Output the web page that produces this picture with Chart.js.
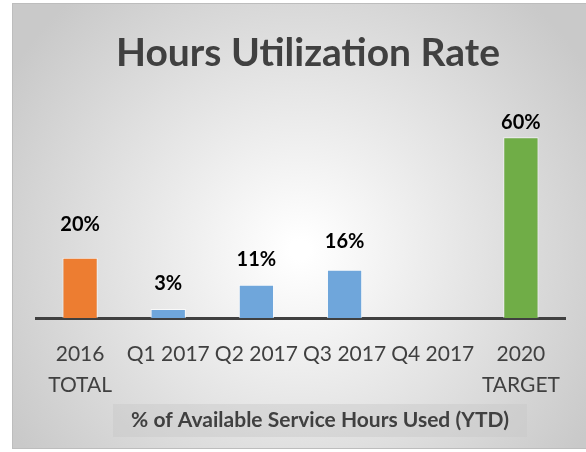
<!DOCTYPE html>
<html>
<head>
<meta charset="utf-8">
<script src="https://cdn.jsdelivr.net/npm/chart.js@4.4.1/dist/chart.umd.min.js"></script>
<style>
  body { margin: 0; background: #ffffff; }
  #wrap { width: 586px; height: 452px; }
</style>
</head>
<body>
<div id="wrap"><canvas id="utilChart" width="586" height="452"></canvas></div>
<script>
const categories = [['2016', 'TOTAL'], 'Q1 2017', 'Q2 2017', 'Q3 2017', 'Q4 2017', ['2020', 'TARGET']];
const utilization = [20, 3, 11, 16, null, 60];
const barColors = ['#ED7D31', '#6FA6DB', '#6FA6DB', '#6FA6DB', '#6FA6DB', '#70AD47'];

const chartTitle = 'Hours Utilization Rate';
const axisTitle = '% of Available Service Hours Used (YTD)';
const textColor = '#404040';

// gray panel with light centre, title, and the boxed axis title
const panelPlugin = {
    id: 'panel',
    beforeDraw(chart) {
        const ctx = chart.ctx;
        ctx.save();
        const g = ctx.createRadialGradient(300, 250, 10, 300, 250, 340);
        g.addColorStop(0, '#ffffff');
        g.addColorStop(1, '#c9c9c9');
        ctx.fillStyle = g;
        ctx.fillRect(12, 3, 574, 446);
        ctx.strokeStyle = '#bdbdbd';
        ctx.lineWidth = 1;
        ctx.strokeRect(12.5, 3.5, 580, 445);

        ctx.fillStyle = textColor;
        ctx.textAlign = 'center';
        ctx.textBaseline = 'middle';
        ctx.font = 'bold 39px Lato';
        ctx.fillText(chartTitle, 308, 53);

        ctx.fillStyle = 'rgba(200,200,200,0.45)';
        ctx.fillRect(113, 404, 414, 33);
        ctx.fillStyle = textColor;
        ctx.font = 'bold 21px Lato';
        ctx.fillText(axisTitle, 320, 420);
        ctx.restore();
    }
};

// percentage labels above bars
const labelOffsets = [25, 17, 17, 20, 0, 7];
const valueLabels = {
    id: 'valueLabels',
    afterDatasetsDraw(chart) {
        const ctx = chart.ctx;
        const meta = chart.getDatasetMeta(0);
        ctx.save();
        ctx.font = 'bold 20px Lato';
        ctx.fillStyle = '#000000';
        ctx.textAlign = 'center';
        ctx.textBaseline = 'bottom';
        meta.data.forEach((bar, i) => {
            const v = utilization[i];
            if (v === null) return;
            ctx.fillText(v + '%', bar.x, bar.y - labelOffsets[i] + 2);
        });
        ctx.restore();
    }
};

new Chart(document.getElementById('utilChart'), {
    type: 'bar',
    data: {
        labels: categories,
        datasets: [{
            label: 'Utilization',
            data: utilization,
            backgroundColor: barColors,
            borderColor: 'rgba(255,255,255,0.7)',
            borderWidth: 1,
            barPercentage: 0.4,
            categoryPercentage: 1.0
        }]
    },
    options: {
        responsive: false,
        animation: false,
        devicePixelRatio: 1,
        layout: {
            padding: { left: 36, right: 21, top: 107, bottom: 39 }
        },
        plugins: {
            legend: { display: false },
            tooltip: { enabled: false },
            title: { display: false }
        },
        scales: {
            x: {
                grid: { display: false },
                border: { display: true, color: '#404040', width: 3 },
                ticks: {
                    color: textColor,
                    font: { family: 'Lato', size: 21, lineHeight: 1.5 },
                    padding: 12,
                    maxRotation: 0,
                    autoSkip: false
                }
            },
            y: {
                display: false,
                min: 0,
                max: 70
            }
        }
    },
    plugins: [panelPlugin, valueLabels]
});
</script>
</body>
</html>
